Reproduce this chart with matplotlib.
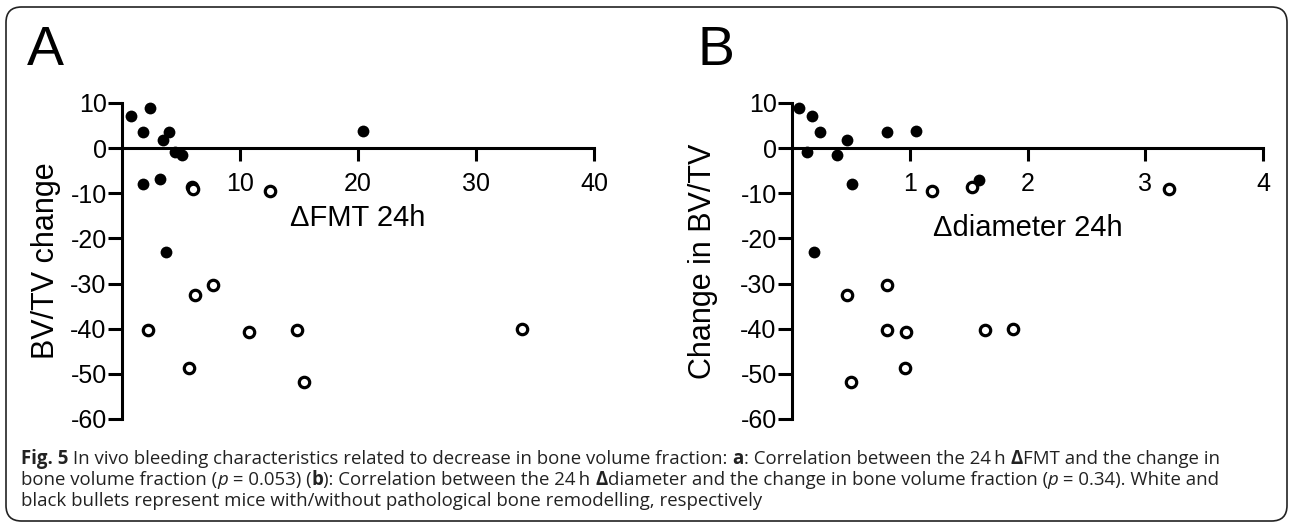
import matplotlib
matplotlib.use("Agg")
import matplotlib.pyplot as plt
from matplotlib.patches import FancyBboxPatch

plt.rcParams["font.family"] = ["Liberation Sans", "DejaVu Sans"]
plt.rcParams["axes.unicode_minus"] = False

# Panel A: delta FMT 24h vs BV/TV change
fmt_solid = [0.8, 2.4, 1.8, 4.0, 3.5, 4.5, 5.1, 1.8, 3.2, 3.7, 20.4]
bvtv_a_solid = [7.2, 8.9, 3.5, 3.5, 1.7, -0.8, -1.5, -7.9, -6.9, -23.0, 3.8]
fmt_open = [5.9, 6.0, 12.5, 7.7, 6.2, 2.2, 10.8, 14.8, 33.9, 5.7, 15.4]
bvtv_a_open = [-8.6, -9.1, -9.4, -30.3, -32.6, -40.2, -40.7, -40.2, -40.1, -48.6, -51.7]

# Panel B: delta diameter 24h vs change in BV/TV
diam_solid = [0.06, 0.17, 0.24, 0.13, 0.38, 0.47, 0.51, 0.19, 0.81, 1.05, 1.59]
bvtv_b_solid = [9.0, 7.2, 3.5, -0.9, -1.5, 1.8, -7.9, -23.0, 3.5, 3.8, -7.0]
diam_open = [1.19, 1.53, 3.2, 0.47, 0.81, 0.81, 0.97, 0.96, 1.64, 1.88, 0.50]
bvtv_b_open = [-9.4, -8.6, -9.0, -32.6, -30.4, -40.2, -40.7, -48.6, -40.2, -40.1, -51.7]

y_ticks = [10, 0, -10, -20, -30, -40, -50, -60]
xticks_a = [10, 20, 30, 40]
xticks_b = [1, 2, 3, 4]

W, H = 1292, 527
fig = plt.figure(figsize=(W / 100, H / 100), dpi=100)


def px_axes(x0, x1, ytop, ybot):
    return fig.add_axes([x0 / W, 1 - ybot / H, (x1 - x0) / W, (ybot - ytop) / H])


def style_panel(ax, xmax, xticks, xlabel, ylabel, ylab_x, xlab_y):
    ax.set_xlim(0, xmax)
    ax.set_ylim(-60, 10)
    for s in ["top", "right"]:
        ax.spines[s].set_visible(False)
    ax.spines["bottom"].set_position(("data", 0))
    for s in ["left", "bottom"]:
        ax.spines[s].set_linewidth(2.2)
    ax.set_yticks(y_ticks)
    ax.set_xticks(xticks)
    ax.tick_params(axis="y", length=10, width=2.2, pad=1, labelsize=18)
    ax.tick_params(axis="x", length=9, width=2.2, pad=8, labelsize=18)
    ax.set_xlabel(xlabel, fontsize=21, va="center")
    ax.xaxis.set_label_coords(0.5, xlab_y)
    ax.set_ylabel(ylabel, fontsize=22, va="center")
    ax.yaxis.set_label_coords(ylab_x, 0.5)
    ax.patch.set_alpha(0)


ax1 = px_axes(122, 594, 103, 419)
ax1.plot(fmt_solid, bvtv_a_solid, "o", color="black", ms=8.5, mew=0, clip_on=False)
ax1.plot(fmt_open, bvtv_a_open, "o", mfc="white", mec="black", ms=7.5, mew=2.3, clip_on=False)
style_panel(ax1, 40, xticks_a, "\u0394FMT 24h", "BV/TV change", -0.16, 0.636)

ax2 = px_axes(792, 1263, 103, 419)
ax2.plot(diam_solid, bvtv_b_solid, "o", color="black", ms=8.5, mew=0, clip_on=False)
ax2.plot(diam_open, bvtv_b_open, "o", mfc="white", mec="black", ms=7.5, mew=2.3, clip_on=False)
style_panel(ax2, 4, xticks_b, "\u0394diameter 24h", "Change in BV/TV", -0.19, 0.606)

fig.text(27 / W, 1 - 65 / H, "A", fontsize=40, va="baseline")
fig.text(697 / W, 1 - 65 / H, "B", fontsize=40, va="baseline")

# rounded frame round the whole figure
frame = FancyBboxPatch((6 / W, 6 / H), 1281 / W, 514 / H,
                       boxstyle="round,pad=0,rounding_size=0.012",
                       transform=fig.transFigure, fill=False,
                       edgecolor="#222222", linewidth=1.2,
                       mutation_aspect=W / H)
fig.patches.append(frame)

# caption, written piece by piece so bold / italic parts can be mixed
caption = [
    [("Fig. 5", "bold", "normal"),
     (" In vivo bleeding characteristics related to decrease in bone volume fraction: ", "normal", "normal"),
     ("a", "bold", "normal"),
     (": Correlation between the 24\u2009h ", "normal", "normal"),
     ("\u0394", "bold", "normal"),
     ("FMT and the change in", "normal", "normal")],
    [("bone volume fraction (", "normal", "normal"),
     ("p", "normal", "italic"),
     (" = 0.053) (", "normal", "normal"),
     ("b", "bold", "normal"),
     ("): Correlation between the 24\u2009h ", "normal", "normal"),
     ("\u0394", "bold", "normal"),
     ("diameter and the change in bone volume fraction (", "normal", "normal"),
     ("p", "normal", "italic"),
     (" = 0.34). White and", "normal", "normal")],
    [("black bullets represent mice with/without pathological bone remodelling, respectively",
      "normal", "normal")],
]
baselines = [464, 485, 506]

renderer = fig.canvas.get_renderer()
for line, yb in zip(caption, baselines):
    x = 21
    for s, weight, style in line:
        t = fig.text(x / W, 1 - yb / H, s, fontsize=13.4, fontweight=weight,
                     fontstyle=style, va="baseline", color="#222222",
                     family=["Open Sans", "DejaVu Sans"])
        bb = t.get_window_extent(renderer)
        x = bb.x1

fig.savefig("out.png", dpi=100)
